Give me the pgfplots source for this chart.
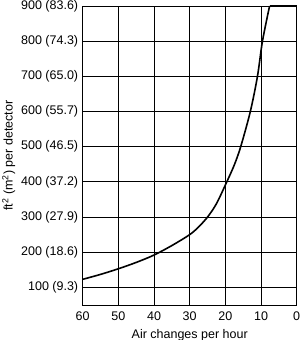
\documentclass[border=0pt]{standalone}
\usepackage{fontspec}
\setmainfont{Liberation Sans}
\usepackage{pgfplots}
\pgfplotsset{compat=1.18}
\begin{document}
\begin{tikzpicture}
\begin{axis}[
  name=ax,
  scale only axis,
  width=214pt, height=299pt,
  x dir=reverse,
  xmin=0, xmax=60, ymin=50, ymax=900,
  xtick={0,10,20,30,40,50,60},
  ytick={100,200,300,400,500,600,700,800,900},
  yticklabels={100 (9.3),200 (18.6),300 (27.9),400 (37.2),500 (46.5),600 (55.7),700 (65.0),800 (74.3),900 (83.6)},
  grid=major,
  major grid style={black, line width=0.9pt},
  axis line style={black, line width=0.9pt},
  major tick length=0pt,
  clip=false,
  /pgf/number format/assume math mode=true,
  tick label style={font=\fontsize{12.5}{14}\selectfont},
  label style={font=\fontsize{12.5}{14}\selectfont},
  yticklabel style={xshift=-1pt},
  xticklabel style={yshift=-3pt},
  xlabel={Air changes per hour},
  ylabel={ft\textsuperscript{2} (m\textsuperscript{2}) per detector},
  xlabel style={yshift=-2pt},
  ylabel style={yshift=-1pt},
]
\addplot[black, line width=1.6pt, smooth, tension=0.5] coordinates {
(60,123) (55,137) (50,153) (45,171) (40,192) (35,219) (30,250) (27.5,272) (25,300)
(22.5,338) (19.6,400) (17.5,448) (15.7,500) (13.0,600) (11.0,700) (9.6,800) (7.6,900)
};
\addplot[black, line width=1.6pt] coordinates {(7.6,900) (0,900)};
\end{axis}
\pgfresetboundingbox
\path ([shift={(-82.7pt,-35pt)}]ax.south west) rectangle ([shift={(3.3pt,6pt)}]ax.north east);
\end{tikzpicture}
\end{document}
